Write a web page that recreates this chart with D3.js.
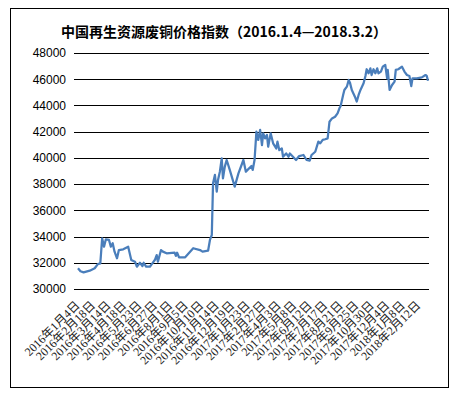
<!DOCTYPE html>
<html>
<head>
<meta charset="utf-8">
<script src="https://cdn.jsdelivr.net/npm/d3@7"></script>
<style>
  body { margin: 0; background: #fff; }
</style>
</head>
<body>
<svg id="chart"></svg>
<script>
// trading-day index (0 = 2016-01-04) and index value
var days = [0, 4, 9, 19, 27, 32, 36, 39, 42, 45, 50, 53, 56, 59, 63, 66, 73, 81, 86, 92,
  95, 100, 104, 106, 110, 116, 120, 124, 127, 129, 134, 137, 143, 156, 158, 160, 163, 173, 186, 197,
  201, 210, 213, 216, 218, 221, 224, 226, 229, 232, 234, 237, 240, 245, 253, 259, 267, 271, 280, 282,
  285, 288, 291, 294, 297, 299, 302, 305, 307, 311, 315, 320, 322, 325, 329, 331, 336, 340, 342, 352,
  357, 364, 369, 374, 377, 383, 388, 391, 395, 399, 403, 406, 410, 415, 419, 422, 424, 428, 430, 434,
  437, 439, 442, 447, 450, 453, 456, 461, 464, 466, 469, 472, 474, 477, 480, 483, 485, 489, 492, 496,
  499, 500, 503, 507, 511, 513, 517, 523, 527, 531, 535, 538, 540, 547, 555, 561, 563, 565];

var prices = [31580, 31350, 31270, 31400, 31580, 31900, 31950, 33870, 33230, 33790, 33740, 33230, 33490, 32850, 32340, 32970, 33030, 33230, 32210, 32080,
  31700, 32000, 31750, 32000, 31700, 31700, 31950, 32210, 32590, 32080, 32970, 32850, 32720, 32770, 32520, 32770, 32420, 32420, 33110, 32970,
  32850, 32920, 33740, 34120, 38060, 38700, 37430, 38310, 38950, 39970, 38440, 39330, 39840, 39080, 37810, 38820, 39840, 38950, 39380, 39080,
  39840, 42000, 41370, 42130, 40980, 41870, 41490, 41750, 40850, 41870, 41110, 40720, 41240, 40590, 40720, 40090, 40340, 40090, 40340, 39840,
  40140, 40220, 39840, 39790, 40220, 40470, 41240, 41110, 41370, 41420, 41490, 42760, 43010, 43140, 43400, 43780, 43960, 44800, 45180, 45430,
  45940, 45740, 45180, 44670, 44300, 44800, 45180, 45690, 46250, 46760, 46450, 46830, 46320, 46760, 46450, 46830, 46450, 46580, 46960, 47090,
  46070, 46710, 45180, 45560, 45820, 46710, 46760, 46960, 46580, 46320, 46250, 45480, 46070, 46070, 46140, 46320, 46250, 45890];

var dateLabels = ["2016年1月4日", "2016年2月18日", "2016年3月14日", "2016年4月18日", "2016年5月23日",
  "2016年6月27日", "2016年8月1日", "2016年9月5日", "2016年10月10日", "2016年11月14日", "2016年12月19日",
  "2017年1月23日", "2017年2月27日", "2017年4月3日", "2017年5月8日", "2017年6月12日", "2017年7月17日",
  "2017年8月21日", "2017年9月25日", "2017年10月30日", "2017年12月4日", "2018年1月8日", "2018年2月12日"];
var labelStep = 25;  // trading days between labels
var lastDay = 565;

var yTicks = [30000, 32000, 34000, 36000, 38000, 40000, 42000, 44000, 46000, 48000];

var W = 460, H = 399;
var svg = d3.select("#chart").attr("width", W).attr("height", H);

svg.append("rect")
  .attr("x", 10.5).attr("y", 8.5)
  .attr("width", 438).attr("height", 379)
  .attr("fill", "#fff").attr("stroke", "#000").attr("stroke-width", 1);

svg.append("text")
  .attr("x", 224).attr("y", 37)
  .attr("text-anchor", "middle")
  .attr("font-family", "'Noto Sans CJK SC', sans-serif")
  .attr("font-weight", "bold")
  .attr("font-size", 14)
  .text("中国再生资源废铜价格指数（2016.1.4—2018.3.2）");

let x = d3.scaleLinear().domain([0, lastDay]).range([78, 428]);
let y = d3.scaleLinear().domain([30000, 48000]).range([289, 53]);

// gridlines + y labels
let yAxis = svg.append("g")
  .attr("transform", "translate(74,0)")
  .call(d3.axisLeft(y).tickValues(yTicks).tickSize(-355).tickPadding(8).tickFormat(d3.format("d")));
yAxis.select(".domain").remove();
yAxis.selectAll("line").attr("stroke", "#000").attr("shape-rendering", "crispEdges");
yAxis.selectAll("text")
  .attr("font-family", "'Liberation Sans', Arial, sans-serif")
  .attr("font-size", 12)
  .attr("fill", "#000");

// x labels, rotated
let xAxis = svg.append("g")
  .attr("transform", "translate(0,297)")
  .call(d3.axisBottom(x)
    .tickValues(dateLabels.map(function(d, i) { return i * labelStep; }))
    .tickSize(0)
    .tickFormat(function(d) { return dateLabels[d / labelStep]; }));
xAxis.select(".domain").remove();
xAxis.selectAll("text")
  .attr("font-family", "'Liberation Serif', 'Noto Sans CJK SC', serif")
  .attr("font-size", 12)
  .attr("fill", "#222")
  .attr("text-anchor", "end")
  .attr("y", 0)
  .attr("dy", "0.7em")
  .attr("transform", "translate(-4,3) rotate(-45)");

let pts = days.map(function(d, i) { return {day: d, price: prices[i]}; });

let valueline = d3.line()
  .x(function(d) { return x(d.day); })
  .y(function(d) { return y(d.price); });

svg.append("path")
  .datum(pts)
  .attr("fill", "none")
  .attr("stroke", "#4a7ebb")
  .attr("stroke-width", 2.25)
  .attr("stroke-linejoin", "round")
  .attr("d", valueline);
</script>
</body>
</html>
